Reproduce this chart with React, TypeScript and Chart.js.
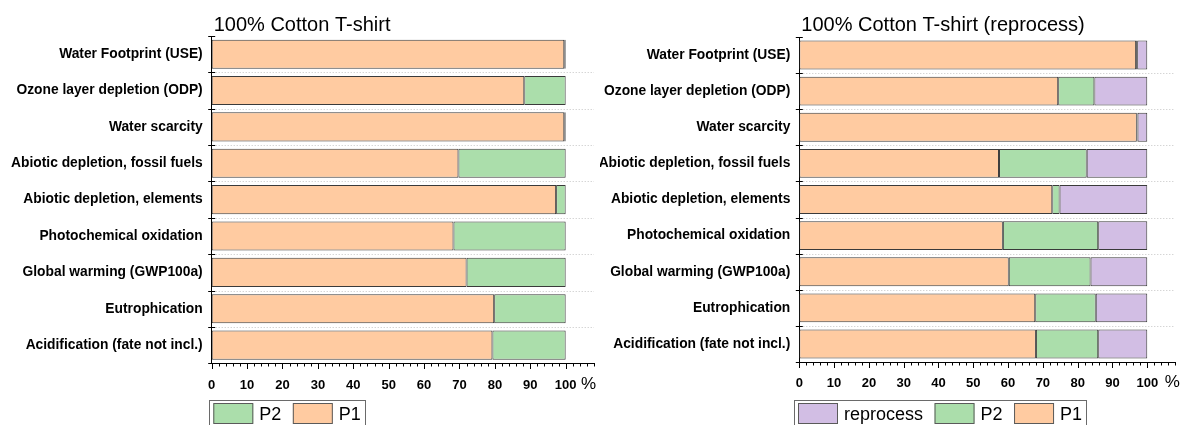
import React, { useEffect, useRef } from 'react';
import { Chart, registerables } from 'chart.js';

Chart.register(...registerables);

// Impact categories, top to bottom
const categories = [
  'Water Footprint (USE)',
  'Ozone layer depletion (ODP)',
  'Water scarcity',
  'Abiotic depletion, fossil fuels',
  'Abiotic depletion, elements',
  'Photochemical oxidation',
  'Global warming (GWP100a)',
  'Eutrophication',
  'Acidification (fate not incl.)',
];

// 100% Cotton T-shirt, share per process (%)
const cottonP1 = [99.6, 88.3, 99.6, 69.7, 97.3, 68.3, 72.0, 79.8, 79.3];
const cottonP2 = [0.4, 11.7, 0.4, 30.3, 2.7, 31.7, 28.0, 20.2, 20.7];

// 100% Cotton T-shirt (reprocess), share per process (%)
const reprocP1 = [96.8, 74.4, 97.0, 57.4, 72.7, 58.5, 60.2, 67.8, 68.0];
const reprocP2 = [0.3, 10.4, 0.2, 25.2, 2.1, 27.4, 23.5, 17.4, 17.9];
const reprocReprocess = [2.9, 15.2, 2.8, 17.4, 25.2, 14.1, 16.3, 14.8, 14.1];

const xTickLabels = [0, 10, 20, 30, 40, 50, 60, 70, 80, 90, 100];
const unitLabel = '%';

const titleLeft = '100% Cotton T-shirt';
const titleRight = '100% Cotton T-shirt (reprocess)';

const COLOR_P1 = 'rgb(255,203,161)';
const COLOR_P2 = 'rgb(171,222,171)';
const COLOR_RE = 'rgb(210,190,228)';
const EDGE = '#3a3a3a';
const FONT = "'Liberation Sans', Arial, sans-serif";

const decorPlugin = {
  id: 'decor',
  beforeDatasetsDraw(chart: any) {
    const { ctx, chartArea } = chart;
    const { left, right, top, bottom } = chartArea;
    const n = chart.data.labels.length;
    const step = (bottom - top) / n;
    ctx.save();
    ctx.strokeStyle = '#c4c4c4';
    ctx.lineWidth = 1;
    ctx.setLineDash([1, 2]);
    for (let i = 1; i < n; i++) {
      const yy = Math.round(top + i * step) + 0.5;
      ctx.beginPath();
      ctx.moveTo(left + 4, yy);
      ctx.lineTo(right, yy);
      ctx.stroke();
    }
    ctx.restore();
  },
  afterDraw(chart: any, _args: any, opts: any) {
    const { ctx, chartArea } = chart;
    const { left, top, bottom } = chartArea;
    const xs = chart.scales.x;
    const n = chart.data.labels.length;
    const step = (bottom - top) / n;
    ctx.save();
    ctx.strokeStyle = '#000';
    ctx.lineWidth = 1;
    ctx.setLineDash([]);
    // category boundary ticks crossing the y axis
    for (let i = 0; i <= n; i++) {
      const yy = Math.round(top + i * step) + 0.5;
      ctx.beginPath();
      ctx.moveTo(left - 3.5, yy);
      ctx.lineTo(left + 3.5, yy);
      ctx.stroke();
    }
    // major and minor ticks on the x axis
    const yb = Math.round(bottom);
    for (let v = 0; v <= xs.max + 0.001; v += 2) {
      const px = Math.round(xs.getPixelForValue(v)) + 0.5;
      const major = v % 10 === 0;
      ctx.beginPath();
      ctx.moveTo(px, yb);
      ctx.lineTo(px, yb + (major ? 6 : 3.5));
      ctx.stroke();
    }
    // title
    ctx.fillStyle = '#000';
    ctx.font = `20px ${FONT}`;
    ctx.textBaseline = 'alphabetic';
    ctx.textAlign = 'left';
    ctx.fillText(opts.title, left + 2, 31);
    // unit sign after the last tick label
    ctx.font = `17px ${FONT}`;
    ctx.textAlign = 'center';
    ctx.textBaseline = 'middle';
    ctx.fillText(unitLabel, xs.getPixelForValue(100) + opts.unitDx, bottom + opts.unitDy);
    // legend (datasets in reverse order)
    const items = chart.data.datasets.slice().reverse();
    ctx.font = `18px ${FONT}`;
    ctx.textAlign = 'left';
    ctx.textBaseline = 'alphabetic';
    let x = opts.legendX;
    const boxTop = 403.5;
    for (let i = 0; i < items.length; i++) {
      const ds = items[i];
      ctx.fillStyle = ds.backgroundColor;
      ctx.fillRect(x, boxTop, 40, 20);
      ctx.strokeStyle = '#5a5a5a';
      ctx.strokeRect(x + 0.5, boxTop, 39, 20);
      ctx.fillStyle = '#000';
      ctx.fillText(ds.label, x + 46, 420);
      x += 46 + ctx.measureText(ds.label).width + (i < items.length - 1 ? 11.5 : 0);
    }
    ctx.strokeStyle = '#6a6a6a';
    ctx.strokeRect(Math.round(opts.legendX - 4) + 0.5, 400.5, Math.round(x - opts.legendX + 8), 40);
    ctx.restore();
  },
};

type PanelProps = {
  datasets: { label: string; data: number[]; color: string }[];
  title: string;
  canvasLeft: number;
  canvasWidth: number;
  areaLeft: number;
  areaTop: number;
  areaBottom: number;
  padRight: number;
  legendX: number;
  unitDx: number;
  unitDy: number;
};

function Panel(p: PanelProps) {
  const ref = useRef<HTMLCanvasElement | null>(null);
  useEffect(() => {
    if (!ref.current) return;
    const chart = new Chart(ref.current, {
      type: 'bar',
      data: {
        labels: categories,
        datasets: p.datasets.map((d) => ({
          label: d.label,
          data: d.data,
          backgroundColor: d.color,
          borderColor: EDGE,
          borderWidth: 1,
          borderSkipped: false,
          categoryPercentage: 0.8,
          barPercentage: 1,
        })),
      },
      options: {
        indexAxis: 'y',
        responsive: false,
        animation: false,
        layout: { padding: { top: p.areaTop, right: p.padRight, left: 0, bottom: 0 } },
        plugins: {
          legend: { display: false },
          title: { display: false },
          tooltip: { enabled: false },
          decor: { title: p.title, legendX: p.legendX, unitDx: p.unitDx, unitDy: p.unitDy },
        } as any,
        scales: {
          x: {
            stacked: true,
            min: 0,
            max: 108,
            afterFit: (s: any) => {
              s.height = 425 - p.areaBottom;
            },
            grid: { display: false, drawTicks: false },
            border: { display: true, color: '#000', width: 1 },
            ticks: {
              stepSize: 10,
              includeBounds: false,
              autoSkip: false,
              maxRotation: 0,
              padding: 14,
              color: '#000',
              font: { family: FONT, size: 13, weight: 'bold' },
              callback: (v: any) => (xTickLabels.includes(Number(v)) ? String(v) : ''),
            },
          },
          y: {
            stacked: true,
            afterFit: (s: any) => {
              s.width = p.areaLeft;
            },
            grid: { display: false, drawTicks: false },
            border: { display: true, color: '#000', width: 1 },
            ticks: {
              padding: 9,
              color: '#000',
              font: { family: FONT, size: 13.8, weight: 'bold' },
            },
          },
        },
      },
      plugins: [decorPlugin],
    } as any);
    return () => chart.destroy();
  }, []);
  return (
    <canvas
      ref={ref}
      width={p.canvasWidth}
      height={425}
      style={{ position: 'absolute', left: p.canvasLeft, top: 0, width: p.canvasWidth, height: 425 }}
    />
  );
}

export default function App() {
  return (
    <div style={{ position: 'fixed', left: 0, top: 0, width: 1184, height: 425, background: '#fff', overflow: 'hidden' }}>
      <Panel
        datasets={[
          { label: 'P1', data: cottonP1, color: COLOR_P1 },
          { label: 'P2', data: cottonP2, color: COLOR_P2 },
        ]}
        title={titleLeft}
        canvasLeft={0}
        canvasWidth={600}
        areaLeft={211.7}
        areaTop={36}
        areaBottom={363.3}
        padRight={6}
        legendX={213.3}
        unitDx={23}
        unitDy={21.5}
      />
      <Panel
        datasets={[
          { label: 'P1', data: reprocP1, color: COLOR_P1 },
          { label: 'P2', data: reprocP2, color: COLOR_P2 },
          { label: 'reprocess', data: reprocReprocess, color: COLOR_RE },
        ]}
        title={titleRight}
        canvasLeft={600}
        canvasWidth={584}
        areaLeft={199.3}
        areaTop={37}
        areaBottom={362}
        padRight={8.9}
        legendX={198}
        unitDx={25}
        unitDy={20}
      />
    </div>
  );
}
